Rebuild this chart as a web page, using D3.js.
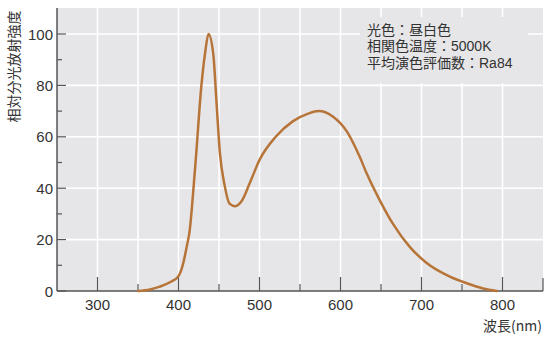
<!DOCTYPE html>
<html>
<head>
<meta charset="utf-8">
<script src="https://cdn.jsdelivr.net/npm/d3@7"></script>
<style>
  html, body { margin: 0; padding: 0; background: #fff; }
  svg { display: block; }
  .num { font-family: "Liberation Sans", Arial, sans-serif; font-size: 15px; fill: #333; }
  .jp { font-family: "Noto Sans CJK JP", sans-serif; font-size: 14px; fill: #333; }
  .info { font-family: "Liberation Sans", "Noto Sans CJK JP", sans-serif; font-size: 14px; fill: #333; }
</style>
</head>
<body>
<div id="chart"></div>
<script>
// spectral distribution
const wavelengths = [350, 365, 377, 390, 400, 406, 410, 414, 418, 422, 428, 433, 437, 443, 447, 451, 457, 463, 470, 478, 488, 500, 520, 541, 560, 573, 590, 608, 624, 632, 649, 665, 686, 706, 735, 756, 776, 793];
const intensity   = [0, 0.6, 1.7, 3.5, 5.8, 11, 17, 24, 38, 54, 79, 93, 100, 92, 73, 54, 41, 34, 33, 35, 42, 51, 60, 66, 69, 70, 68, 62, 52, 46, 35, 26, 17, 11, 5.6, 3, 1, 0];

const xMajor = [300, 400, 500, 600, 700, 800];
const xMinor = [350, 450, 550, 650, 750, 850];
const xGrid = [300, 350, 400, 450, 500, 550, 600, 650, 700, 750, 800];
const yMajor = [0, 20, 40, 60, 80, 100];
const yMinor = [10, 30, 50, 70, 90];
const yGrid = [20, 40, 60, 80, 100];
const infoLines = ["光色：昼白色", "相関色温度：5000K", "平均演色評価数：Ra84"];
const yTitle = "相対分光放射強度";
const xTitle = "波長(nm)";

const W = 555, H = 339;
const m = { top: 8, right: 12, bottom: 48, left: 57 };
const svg = d3.select("#chart").append("svg").attr("width", W).attr("height", H);

const x = d3.scaleLinear().domain([250, 850]).range([m.left, W - m.right]);
const y = d3.scaleLinear().domain([0, 100]).range([291, 34]);
const yTop = m.top;

// plot background
svg.append("rect").attr("x", x(250)).attr("y", yTop)
  .attr("width", x(850) - x(250)).attr("height", y(0) - yTop).attr("fill", "#e6e6e8");

// grid
svg.append("g").selectAll("line").data(xGrid).join("line")
  .attr("x1", x).attr("x2", x).attr("y1", yTop).attr("y2", y(0))
  .attr("stroke", "#fff").attr("stroke-width", 1.6);
svg.append("g").selectAll("line").data(yGrid).join("line")
  .attr("x1", x(250)).attr("x2", x(850)).attr("y1", y).attr("y2", y)
  .attr("stroke", "#fff").attr("stroke-width", 1.6);

// info box covers the grid
svg.append("rect").attr("x", 360).attr("y", 17).attr("width", 168).attr("height", 66).attr("fill", "#e6e6e8");
svg.append("g").selectAll("text").data(infoLines).join("text")
  .attr("class", "info").attr("x", 367).attr("y", (d, i) => 34.5 + i * 16.7).text((d) => d);

// axes
const ax = "#555";
svg.append("line").attr("x1", x(250)).attr("x2", x(250)).attr("y1", yTop).attr("y2", y(0))
  .attr("stroke", ax).attr("stroke-width", 1.5);
svg.append("line").attr("x1", x(250)).attr("x2", x(850)).attr("y1", y(0)).attr("y2", y(0))
  .attr("stroke", ax).attr("stroke-width", 1.5);
svg.append("g").selectAll("line").data(yMajor).join("line")
  .attr("x1", x(250)).attr("x2", x(250) + 9).attr("y1", y).attr("y2", y).attr("stroke", ax).attr("stroke-width", 1.2);
svg.append("g").selectAll("line").data(yMinor).join("line")
  .attr("x1", x(250)).attr("x2", x(250) + 5).attr("y1", y).attr("y2", y).attr("stroke", ax).attr("stroke-width", 1.2);
svg.append("g").selectAll("line").data(xMajor).join("line")
  .attr("x1", x).attr("x2", x).attr("y1", y(0)).attr("y2", y(0) - 14).attr("stroke", ax).attr("stroke-width", 1.2);
svg.append("g").selectAll("line").data(xMinor).join("line")
  .attr("x1", x).attr("x2", x).attr("y1", y(0)).attr("y2", (d) => y(0) - (d === 850 ? 13 : 7)).attr("stroke", ax).attr("stroke-width", 1.2);

// tick labels
svg.append("g").selectAll("text").data(yMajor).join("text")
  .attr("class", "num").attr("x", 53).attr("y", (d) => y(d) + 5.5).attr("text-anchor", "end").text((d) => d);
svg.append("g").selectAll("text").data(xMajor).join("text")
  .attr("class", "num").attr("x", x).attr("y", 310).attr("text-anchor", "middle").text((d) => d);

// titles
svg.append("text").attr("class", "jp").attr("transform", "translate(19,66.5) rotate(-90)")
  .attr("text-anchor", "middle").text(yTitle);
svg.append("text").attr("class", "jp").attr("x", 542).attr("y", 331).attr("text-anchor", "end").text(xTitle);

// spectrum curve
const pts = wavelengths.map((w, i) => [w, intensity[i]]);
const line = d3.line().x((d) => x(d[0])).y((d) => y(d[1])).curve(d3.curveMonotoneX);
svg.append("path").datum(pts).attr("d", line)
  .attr("fill", "none").attr("stroke", "#b77438").attr("stroke-width", 2.5)
  .attr("stroke-linejoin", "round").attr("stroke-linecap", "round");
</script>
</body>
</html>
